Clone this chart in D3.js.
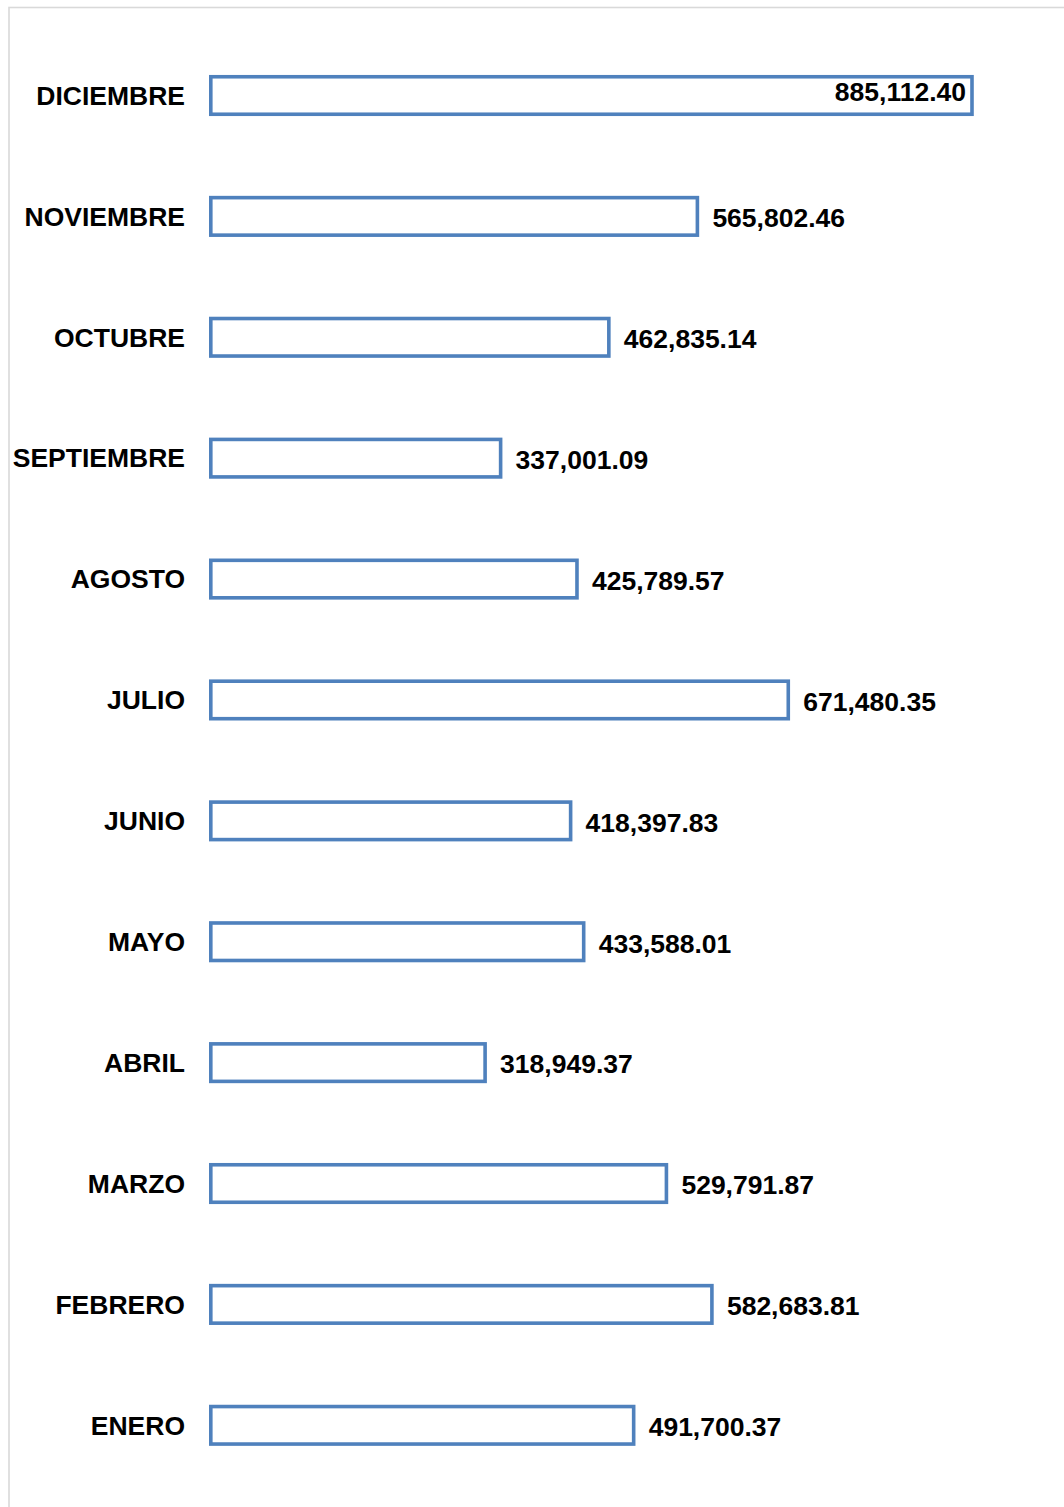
<!DOCTYPE html>
<html>
<head>
<meta charset="utf-8">
<title>Meses</title>
<script src="https://cdn.jsdelivr.net/npm/d3@7"></script>
<style>
  html, body { margin: 0; padding: 0; background: #fff; overflow: hidden; }
  svg { display: block; }
  text { font-family: "Liberation Sans", Arial, sans-serif; font-weight: bold; fill: #000; }
</style>
</head>
<body>
<div id="chart"></div>
<script>
(function(d3) {
  'use strict';

  var months = ['ENERO', 'FEBRERO', 'MARZO', 'ABRIL', 'MAYO', 'JUNIO',
                'JULIO', 'AGOSTO', 'SEPTIEMBRE', 'OCTUBRE', 'NOVIEMBRE', 'DICIEMBRE'];
  var amounts = [491700.37, 582683.81, 529791.87, 318949.37, 433588.01, 418397.83,
                 671480.35, 425789.57, 337001.09, 462835.14, 565802.46, 885112.40];

  var width = 1064;
  var height = 1507;
  var barHeight = 37.5;
  var fontSize = 26.5;

  var data = months.map(function(m, i) { return { month: m, value: amounts[i] }; });

  var svg = d3.select('#chart')
    .append('svg')
    .attr('width', width)
    .attr('height', height);

  // chart frame (runs off the right and bottom edge)
  svg.append('rect')
    .attr('x', 9)
    .attr('y', 7.5)
    .attr('width', width + 50)
    .attr('height', height + 50)
    .attr('fill', 'none')
    .attr('stroke', '#d9d9d9')
    .attr('stroke-width', 1.6);

  var x = d3.scaleLinear()
    .domain([0, 900000])
    .range([210.8, 984.8]);

  // top to bottom: DICIEMBRE ... ENERO
  var y = d3.scalePoint()
    .domain(months.slice().reverse())
    .range([95.5, 1425.3]);

  var fmt = d3.format(',.2f');

  var bars = svg.selectAll('.bar')
    .data(data)
    .enter()
    .append('g')
    .attr('class', 'bar');

  bars.append('rect')
    .attr('x', x(0))
    .attr('y', function(d) { return y(d.month) - barHeight / 2; })
    .attr('width', function(d) { return x(d.value) - x(0); })
    .attr('height', barHeight)
    .attr('fill', '#fff')
    .attr('stroke', '#4f81bd')
    .attr('stroke-width', 3.6);

  // category labels
  svg.selectAll('.cat')
    .data(data)
    .enter()
    .append('text')
    .attr('class', 'cat')
    .attr('x', 185)
    .attr('y', function(d) { return y(d.month); })
    .attr('dy', '0.35em')
    .attr('text-anchor', 'end')
    .style('font-size', fontSize + 'px')
    .text(function(d) { return d.month; });

  // value labels: inside end for the longest bar, outside end for the rest
  var maxVal = d3.max(amounts);
  svg.selectAll('.val')
    .data(data)
    .enter()
    .append('text')
    .attr('class', 'val')
    .attr('x', function(d) {
      return d.value === maxVal ? x(d.value) - 6 : x(d.value) + 15;
    })
    .attr('y', function(d) {
      return d.value === maxVal ? y(d.month) - 3.5 : y(d.month) + 1.5;
    })
    .attr('dy', '0.35em')
    .attr('text-anchor', function(d) { return d.value === maxVal ? 'end' : 'start'; })
    .style('font-size', fontSize + 'px')
    .text(function(d) { return fmt(d.value); });

})(window.d3);
</script>
</body>
</html>
